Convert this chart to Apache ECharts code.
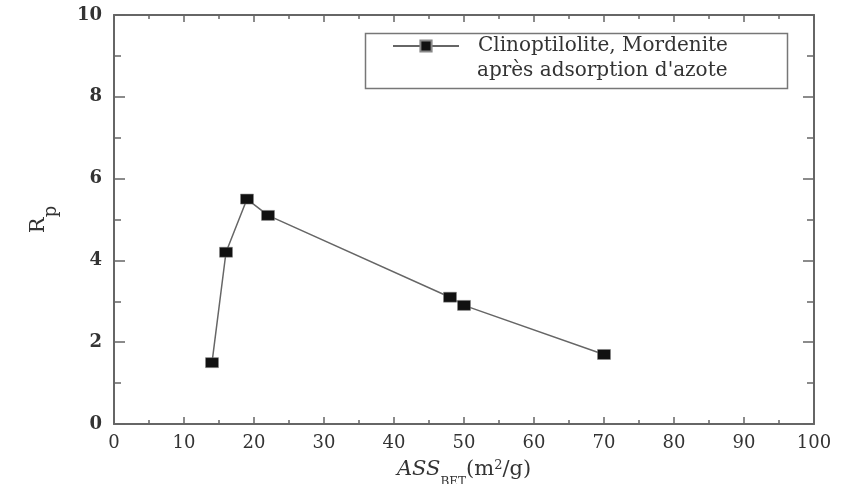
<!DOCTYPE html>
<html>
<head>
<meta charset="utf-8">
<style>
  html, body { margin: 0; padding: 0; background: #fff; }
  #chart { width: 855px; height: 484px; }
</style>
<script src="https://cdn.jsdelivr.net/npm/echarts@6/dist/echarts.min.js"></script>
</head>
<body>
<div id="chart"></div>
<script>
// surface BET (m2/g) et Rp
var assBet = [14, 16, 19, 22, 48, 50, 70];
var rp = [1.5, 4.2, 5.5, 5.1, 3.1, 2.9, 1.7];
var seriesName = 'Clinoptilolite, Mordenite';
var seriesName2 = "après adsorption d'azote";

var serif = 'DejaVu Serif';
var frame = '#666';
var ink = '#333';

var points = assBet.map(function (x, i) { return [x, rp[i]]; });

var chart = echarts.init(document.getElementById('chart'));

// axe miroir (haut / droite) : seulement les graduations
function mirror(pos, max, interval, major, minor) {
  return {
    type: 'value',
    position: pos,
    min: 0,
    max: max,
    interval: interval,
    axisLine: { show: true, onZero: false, lineStyle: { color: frame, width: 2 } },
    axisTick: { show: true, inside: true, length: major, lineStyle: { color: frame, width: 1.5 } },
    minorTick: { show: true, splitNumber: 2, length: minor, lineStyle: { color: frame, width: 1.5 } },
    axisLabel: { show: false },
    splitLine: { show: false }
  };
}

var option = {
  backgroundColor: '#fff',
  animation: false,
  grid: { left: 114, right: 41, top: 15, bottom: 60, outerBoundsMode: 'none' },
  legend: {
    data: [seriesName],
    left: 363,
    top: 31,
    padding: [4, 10, 29, 29],
    itemWidth: 66,
    itemHeight: 14,
    textStyle: { fontFamily: serif, fontSize: 20, color: ink, lineHeight: 22, padding: [0, 0, 0, 14] }
  },
  graphic: [
    {
      type: 'rect',
      left: 363,
      top: 31,
      shape: { width: 422, height: 55 },
      style: { fill: 'none', stroke: '#777', lineWidth: 1.5 }
    },
    {
      type: 'text',
      left: 477,
      top: 61,
      style: { text: seriesName2, font: '20px "DejaVu Serif"', fill: ink }
    }
  ],
  xAxis: [
    {
      type: 'value',
      min: 0,
      max: 100,
      interval: 10,
      name: '{i|ASS}{s|BET}{n|(m}{sup|2}{n|/g)}',
      nameLocation: 'middle',
      nameGap: 35,
      nameTextStyle: {
        rich: {
          i: { fontFamily: serif, fontStyle: 'italic', fontSize: 21, color: ink, lineHeight: 22, verticalAlign: 'top' },
          s: { fontFamily: serif, fontSize: 12, color: ink, lineHeight: 30, verticalAlign: 'bottom' },
          n: { fontFamily: serif, fontSize: 21, color: ink, lineHeight: 22, verticalAlign: 'top' },
          sup: { fontFamily: serif, fontSize: 13, color: ink, lineHeight: 13, verticalAlign: 'top' }
        }
      },
      axisLine: { show: true, onZero: false, lineStyle: { color: frame, width: 2 } },
      axisTick: { show: true, inside: true, length: 7, lineStyle: { color: frame, width: 1.5 } },
      minorTick: { show: true, splitNumber: 2, length: 4, lineStyle: { color: frame, width: 1.5 } },
      axisLabel: { fontFamily: serif, fontSize: 18, color: ink, margin: 10 },
      splitLine: { show: false }
    },
    mirror('top', 100, 10, 7, 4)
  ],
  yAxis: [
    {
      type: 'value',
      min: 0,
      max: 10,
      interval: 2,
      name: '{r|R}{p|p}',
      nameLocation: 'middle',
      nameGap: 54,
      nameTextStyle: {
        rich: {
          r: { fontFamily: serif, fontSize: 21, color: ink, lineHeight: 22, verticalAlign: 'top' },
          p: { fontFamily: serif, fontSize: 18, color: ink, lineHeight: 32, verticalAlign: 'bottom' }
        }
      },
      axisLine: { show: true, onZero: false, lineStyle: { color: frame, width: 2 } },
      axisTick: { show: true, inside: true, length: 11, lineStyle: { color: frame, width: 1.5 } },
      minorTick: { show: true, splitNumber: 2, length: 7, lineStyle: { color: frame, width: 1.5 } },
      axisLabel: { fontFamily: serif, fontSize: 18, fontWeight: 'bold', color: ink, margin: 12 },
      splitLine: { show: false }
    },
    mirror('right', 10, 2, 11, 7)
  ],
  series: [
    {
      name: seriesName,
      type: 'line',
      data: points,
      symbol: 'rect',
      symbolSize: [13, 10],
      itemStyle: { color: '#111', borderColor: '#888', borderWidth: 0.5 },
      lineStyle: { color: '#666', width: 1.5 }
    }
  ]
};

chart.setOption(option);
</script>
</body>
</html>
